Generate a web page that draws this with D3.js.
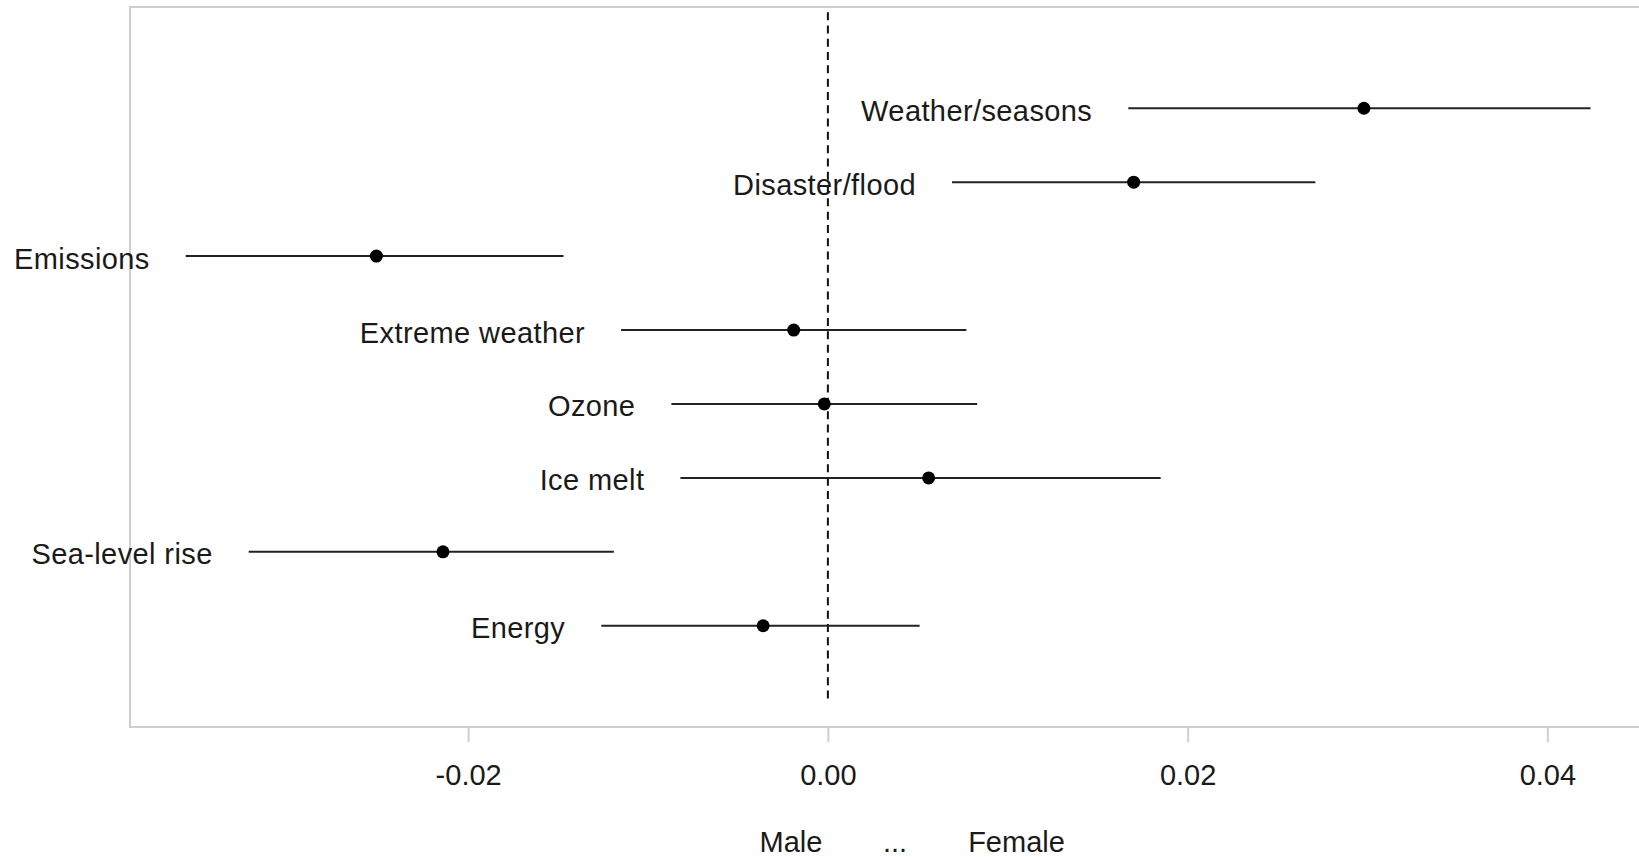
<!DOCTYPE html>
<html>
<head>
<meta charset="utf-8">
<script src="https://cdn.jsdelivr.net/npm/d3@7"></script>
<style>
  body { margin: 0; background: #fff; }
  text { font-family: "Liberation Sans", Arial, sans-serif; font-size: 29px; fill: #1a1a1a; }
</style>
</head>
<body>
<div id="chart"></div>
<script>
// topics, top to bottom
let topics = ["Weather/seasons", "Disaster/flood", "Emissions", "Extreme weather",
              "Ozone", "Ice melt", "Sea-level rise", "Energy"]
// point estimate and interval ends (Female minus Male)
let estimate = [0.0298, 0.0170, -0.0251, -0.0019, -0.0002, 0.0056, -0.0214, -0.0036]
let lower    = [0.0167, 0.0069, -0.0357, -0.0115, -0.0087, -0.0082, -0.0322, -0.0126]
let upper    = [0.0424, 0.0271, -0.0147, 0.0077, 0.0083, 0.0185, -0.0119, 0.0051]
let xTicks = [-0.02, 0, 0.02, 0.04]

var W = 1639, H = 857
var box = { left: 130, right: 1646.3, top: 7, bottom: 727 }

var svg = d3.select("#chart")
    .append("svg")
    .attr("width", W)
    .attr("height", H)

var x = d3.scaleLinear()
    .domain([-0.0388, 0.0455])
    .range([box.left, box.right])

var y = d3.scalePoint()
    .domain(topics)
    .range([box.top, box.bottom])
    .padding(1.37)

var rows = topics.map((t, i) => ({ topic: t, est: estimate[i], lo: lower[i], hi: upper[i] }))

// plot frame
svg.append("rect")
    .attr("x", box.left)
    .attr("y", box.top)
    .attr("width", box.right - box.left)
    .attr("height", box.bottom - box.top)
    .attr("fill", "none")
    .attr("stroke", "#cfcfcf")
    .attr("stroke-width", 2)

// x axis: ticks hang below the frame
var xAxis = svg.append("g")
    .attr("transform", "translate(0," + box.bottom + ")")
    .call(d3.axisBottom(x).tickValues(xTicks).tickSize(15).tickPadding(22)
        .tickFormat(d3.format(".2f")))
xAxis.select(".domain").remove()
xAxis.selectAll(".tick line").attr("stroke", "#cfcfcf").attr("stroke-width", 2)
xAxis.selectAll(".tick text")
    .attr("fill", "#1a1a1a")
    .style("font-size", "29px")
    .style("font-family", "'Liberation Sans', Arial, sans-serif")
    .text(d => d3.format(".2f")(d).replace("−", "-"))

// reference line at zero
var step = y.step()
svg.append("line")
    .attr("x1", x(0)).attr("x2", x(0))
    .attr("y1", y(topics[0]) - 1.3 * step)
    .attr("y2", y(topics[topics.length - 1]) + 1.03 * step)
    .attr("stroke", "#111")
    .attr("stroke-width", 2)
    .attr("stroke-dasharray", "8,5.3")

// intervals
svg.selectAll(".ci")
    .data(rows)
    .enter()
    .append("line")
    .attr("class", "ci")
    .attr("x1", d => x(d.lo))
    .attr("x2", d => x(d.hi))
    .attr("y1", d => y(d.topic))
    .attr("y2", d => y(d.topic))
    .attr("stroke", "#222")
    .attr("stroke-width", 2)

// estimates
svg.selectAll(".est")
    .data(rows)
    .enter()
    .append("circle")
    .attr("class", "est")
    .attr("cx", d => x(d.est))
    .attr("cy", d => y(d.topic))
    .attr("r", 6.5)
    .attr("fill", "#000")

// topic labels sit left of each interval
svg.selectAll(".lab")
    .data(rows)
    .enter()
    .append("text")
    .attr("class", "lab")
    .attr("x", d => x(d.lo) - 36)
    .attr("y", d => y(d.topic) + 12.5)
    .attr("text-anchor", "end")
    .style("letter-spacing", "0.4px")
    .text(d => d.topic)

// axis title
var titleY = 852
svg.append("text").attr("x", 791).attr("y", titleY).attr("text-anchor", "middle").text("Male")
svg.append("text").attr("x", 895).attr("y", titleY).attr("text-anchor", "middle").text("...")
svg.append("text").attr("x", 1016.5).attr("y", titleY).attr("text-anchor", "middle").text("Female")
</script>
</body>
</html>
